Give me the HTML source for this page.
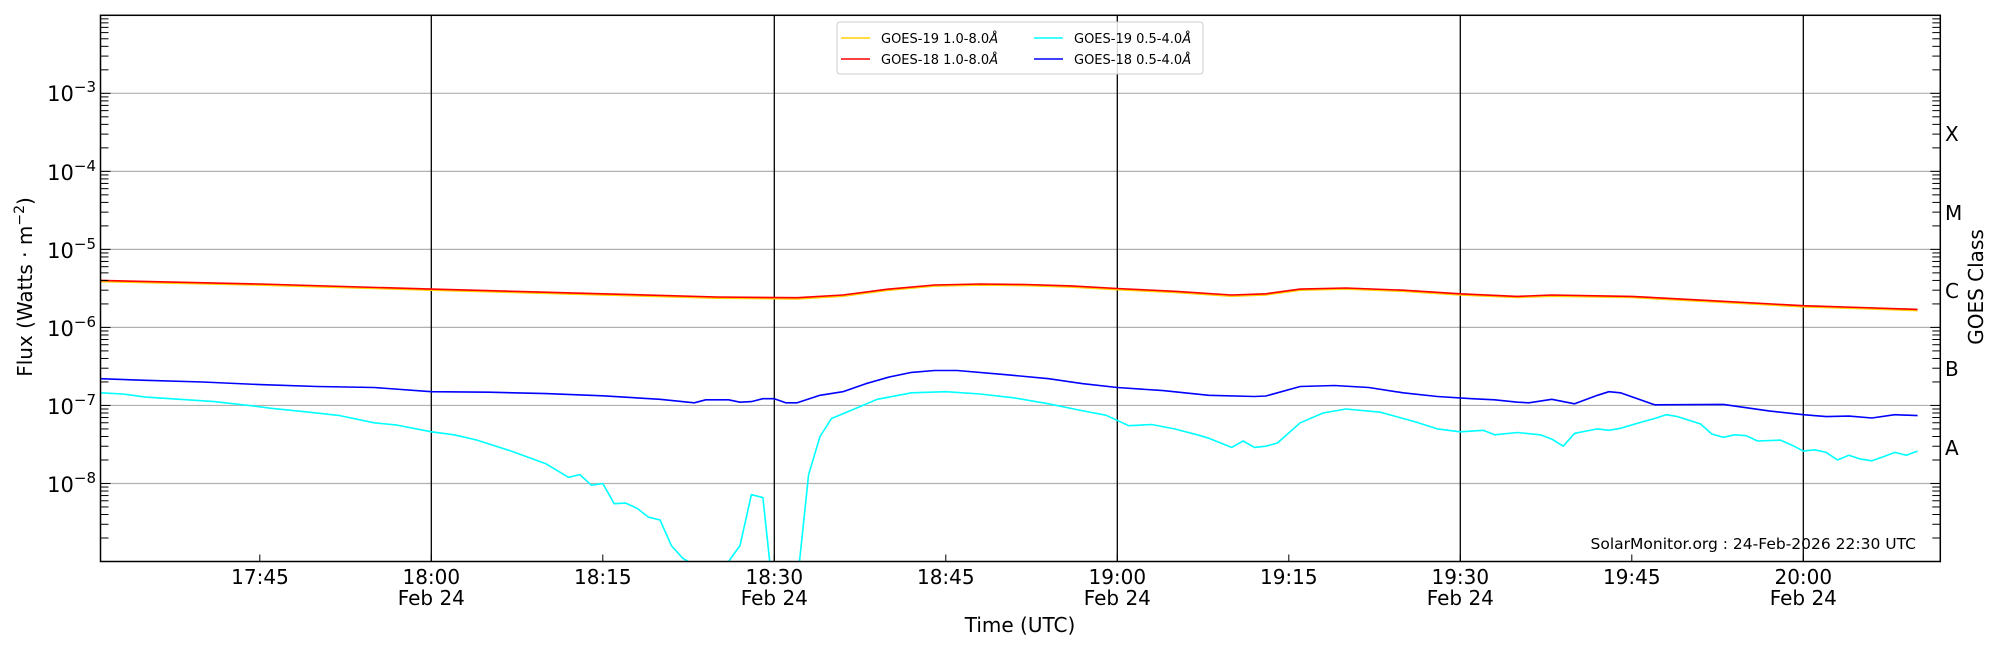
<!DOCTYPE html>
<html><head><meta charset="utf-8"><style>
body{margin:0;background:#fff;width:2000px;height:650px;overflow:hidden}
svg{display:block;font-family:"DejaVu Sans","Liberation Sans",sans-serif}
</style></head><body>
<svg id="s" width="2000" height="650" viewBox="0 0 2000 650" xmlns="http://www.w3.org/2000/svg">
<defs><clipPath id="c"><rect x="100.5" y="15.3" width="1839.8" height="546.2"/></clipPath></defs>
<g id="grid"></g>
<g id="vl"></g>
<g id="series" clip-path="url(#c)"></g>
<g id="ticks"></g>
<rect x="100.5" y="15.3" width="1839.8" height="546.2" fill="none" stroke="#000" stroke-width="1.5"/>
<g font-size="21" text-anchor="end" fill="#000">
<text x="96" y="101">10<tspan dy="-9" font-size="15">−3</tspan></text>
<text x="96" y="180">10<tspan dy="-9" font-size="15">−4</tspan></text>
<text x="96" y="258">10<tspan dy="-9" font-size="15">−5</tspan></text>
<text x="96" y="336">10<tspan dy="-9" font-size="15">−6</tspan></text>
<text x="96" y="414">10<tspan dy="-9" font-size="15">−7</tspan></text>
<text x="96" y="492">10<tspan dy="-9" font-size="15">−8</tspan></text>
</g>
<text transform="translate(32,287) rotate(-90)" font-size="20" text-anchor="middle">Flux (Watts · m<tspan dy="-8" font-size="14">−2</tspan><tspan dy="8">)</tspan></text>
<g font-size="20" fill="#000">
<text x="1945" y="141">X</text><text x="1945" y="220">M</text><text x="1945" y="298">C</text><text x="1945" y="376">B</text><text x="1945" y="455">A</text>
</g>
<text transform="translate(1983,287) rotate(-90)" font-size="20" text-anchor="middle">GOES Class</text>
<g font-size="20" text-anchor="middle">
<text x="260" y="584">17:45</text>
<text x="431.3" y="584">18:00</text><text x="431.3" y="605">Feb 24</text>
<text x="602.8" y="584">18:15</text>
<text x="774.3" y="584">18:30</text><text x="774.3" y="605">Feb 24</text>
<text x="945.8" y="584">18:45</text>
<text x="1117.3" y="584">19:00</text><text x="1117.3" y="605">Feb 24</text>
<text x="1288.8" y="584">19:15</text>
<text x="1460.3" y="584">19:30</text><text x="1460.3" y="605">Feb 24</text>
<text x="1631.8" y="584">19:45</text>
<text x="1803.3" y="584">20:00</text><text x="1803.3" y="605">Feb 24</text>
<text x="1020" y="632">Time (UTC)</text>
</g>
<text x="1916" y="549" font-size="15.5" text-anchor="end">SolarMonitor.org : 24-Feb-2026 22:30 UTC</text>
<g>
<rect x="837" y="22" width="366" height="52" rx="3" fill="#fff" fill-opacity="0.85" stroke="#ccc"/>
<line x1="841" y1="38" x2="870" y2="38" stroke="#ffd000" stroke-width="1.5"/>
<line x1="841" y1="59" x2="870" y2="59" stroke="#ff0000" stroke-width="1.5"/>
<line x1="1034" y1="38" x2="1063" y2="38" stroke="#00ffff" stroke-width="1.5"/>
<line x1="1034" y1="59" x2="1063" y2="59" stroke="#0000ff" stroke-width="1.5"/>
<g font-size="13">
<text x="881" y="43">GOES-19 1.0-8.0<tspan font-style="italic">Å</tspan></text>
<text x="881" y="64">GOES-18 1.0-8.0<tspan font-style="italic">Å</tspan></text>
<text x="1074" y="43">GOES-19 0.5-4.0<tspan font-style="italic">Å</tspan></text>
<text x="1074" y="64">GOES-18 0.5-4.0<tspan font-style="italic">Å</tspan></text>
</g></g>
</svg>
<script>
var NS="http://www.w3.org/2000/svg";
var TOP=15.3,BOT=561.5,L=100.5,R=1940.3,DEC=78.03;
function X(h,m){return 431.3+((h*60+m)-1080)*686/60;}
function Y(f){return BOT-(Math.log10(f)+9)*DEC;}
function el(p,t,a){var e=document.createElementNS(NS,t);for(var k in a)e.setAttribute(k,a[k]);document.getElementById(p).appendChild(e);return e;}
for(var d=-8;d<=-3;d++){var y=Y(Math.pow(10,d));el("grid","line",{x1:L,x2:R,y1:y,y2:y,stroke:"#b0b0b0","stroke-width":1.2});}
[[18,0],[18,30],[19,0],[19,30],[20,0]].forEach(function(t){var x=X(t[0],t[1]);el("vl","line",{x1:x,x2:x,y1:TOP,y2:BOT,stroke:"#000","stroke-width":1.3});});
for(var d=-9;d<-2;d++){for(var k=1;k<10;k++){var f=k*Math.pow(10,d),y=Y(f);if(y<TOP||y>BOT)continue;var Ln=k==1?10:8;
el("ticks","line",{x1:L,x2:L+Ln,y1:y,y2:y,stroke:"#000","stroke-width":1});
el("ticks","line",{x1:R-Ln,x2:R,y1:y,y2:y,stroke:"#000","stroke-width":1});}}
for(var m=1065;m<=1200;m+=15){var x=431.3+(m-1080)*686/60;el("ticks","line",{x1:x,x2:x,y1:BOT,y2:BOT-7,stroke:"#000","stroke-width":1});}
function path(data,col,w){var s="";data.forEach(function(p,i){s+=(i?"L":"M")+X(p[0],p[1]).toFixed(1)+","+Y(p[2]).toFixed(1);});el("series","path",{d:s,fill:"none",stroke:col,"stroke-width":w,"stroke-linejoin":"round"});}
var xr=[[17,31,4.0e-6],[17,45,3.6e-6],[18,0,3.1e-6],[18,15,2.7e-6],[18,25,2.45e-6],[18,32,2.4e-6],[18,36,2.6e-6],[18,40,3.1e-6],[18,44,3.5e-6],[18,48,3.6e-6],[18,52,3.55e-6],[18,56,3.4e-6],[19,0,3.15e-6],[19,5,2.9e-6],[19,10,2.6e-6],[19,13,2.7e-6],[19,16,3.1e-6],[19,20,3.2e-6],[19,25,3.0e-6],[19,30,2.7e-6],[19,35,2.5e-6],[19,38,2.6e-6],[19,45,2.5e-6],[19,52,2.2e-6],[20,0,1.9e-6],[20,5,1.8e-6],[20,10,1.7e-6]];
path(xr.map(function(p){return [p[0],p[1],p[2]*0.97];}),"#ffd000",1.8);
path(xr,"#ff0000",1.6);
var b=[[17,31,2.2e-7],[17,35,2.1e-7],[17,40,2.0e-7],[17,45,1.85e-7],[17,50,1.75e-7],[17,55,1.7e-7],[18,0,1.5e-7],[18,5,1.48e-7],[18,10,1.42e-7],[18,15,1.33e-7],[18,20,1.2e-7],[18,23,1.08e-7],[18,24,1.18e-7],[18,26,1.18e-7],[18,27,1.1e-7],[18,28,1.12e-7],[18,29,1.22e-7],[18,30,1.22e-7],[18,31,1.08e-7],[18,32,1.08e-7],[18,34,1.35e-7],[18,36,1.5e-7],[18,38,1.9e-7],[18,40,2.3e-7],[18,42,2.65e-7],[18,44,2.8e-7],[18,46,2.8e-7],[18,50,2.5e-7],[18,54,2.2e-7],[18,57,1.9e-7],[19,0,1.7e-7],[19,4,1.55e-7],[19,8,1.35e-7],[19,12,1.3e-7],[19,13,1.32e-7],[19,16,1.75e-7],[19,19,1.8e-7],[19,22,1.7e-7],[19,25,1.45e-7],[19,28,1.3e-7],[19,31,1.22e-7],[19,33,1.18e-7],[19,35,1.1e-7],[19,36,1.08e-7],[19,38,1.2e-7],[19,40,1.05e-7],[19,42,1.35e-7],[19,43,1.5e-7],[19,44,1.45e-7],[19,47,1.02e-7],[19,53,1.03e-7],[19,57,8.5e-8],[20,0,7.6e-8],[20,2,7.2e-8],[20,4,7.3e-8],[20,6,6.9e-8],[20,8,7.6e-8],[20,10,7.4e-8]];
path(b,"#0000ff",1.6);
var c=[[17,31,1.45e-7],[17,33,1.4e-7],[17,35,1.28e-7],[17,38,1.2e-7],[17,41,1.12e-7],[17,44,1.0e-7],[17,46,9.2e-8],[17,49,8.3e-8],[17,52,7.4e-8],[17,55,6.0e-8],[17,57,5.6e-8],[18,0,4.6e-8],[18,2,4.2e-8],[18,4,3.6e-8],[18,7,2.6e-8],[18,10,1.8e-8],[18,12,1.2e-8],[18,13,1.3e-8],[18,14,9.5e-9],[18,15,1.0e-8],[18,16,5.5e-9],[18,17,5.6e-9],[18,18,4.8e-9],[18,19,3.7e-9],[18,20,3.4e-9],[18,21,1.6e-9],[18,22,1.1e-9],[18,23,0.9e-9],[18,25,0.8e-9],[18,26,1.0e-9],[18,27,1.6e-9],[18,28,7.2e-9],[18,29,6.6e-9],[18,29.6,1.0e-9],[18,30,0.5e-9],[18,31.5,0.5e-9],[18,32.2,1.0e-9],[18,33,1.3e-8],[18,34,4.0e-8],[18,35,6.8e-8],[18,37,9.0e-8],[18,39,1.2e-7],[18,42,1.45e-7],[18,45,1.5e-7],[18,48,1.4e-7],[18,51,1.25e-7],[18,54,1.05e-7],[18,57,8.5e-8],[18,59,7.5e-8],[19,1,5.5e-8],[19,3,5.7e-8],[19,5,5.0e-8],[19,7,4.2e-8],[19,8,3.8e-8],[19,10,2.9e-8],[19,11,3.5e-8],[19,12,2.9e-8],[19,13,3.0e-8],[19,14,3.3e-8],[19,16,6.0e-8],[19,18,8.0e-8],[19,20,9.0e-8],[19,23,8.2e-8],[19,26,6.2e-8],[19,28,5.0e-8],[19,30,4.6e-8],[19,32,4.8e-8],[19,33,4.2e-8],[19,35,4.5e-8],[19,37,4.2e-8],[19,38,3.7e-8],[19,39,3.0e-8],[19,40,4.4e-8],[19,42,5.0e-8],[19,43,4.8e-8],[19,44,5.1e-8],[19,46,6.2e-8],[19,47,6.8e-8],[19,48,7.6e-8],[19,49,7.2e-8],[19,51,5.8e-8],[19,52,4.3e-8],[19,53,3.9e-8],[19,54,4.2e-8],[19,55,4.1e-8],[19,56,3.5e-8],[19,58,3.6e-8],[19,59,3.1e-8],[20,0,2.6e-8],[20,1,2.7e-8],[20,2,2.5e-8],[20,3,2.0e-8],[20,4,2.3e-8],[20,5,2.05e-8],[20,6,1.95e-8],[20,7,2.2e-8],[20,8,2.5e-8],[20,9,2.3e-8],[20,10,2.6e-8]];
path(c,"#00ffff",1.6);
</script>
</body></html>
